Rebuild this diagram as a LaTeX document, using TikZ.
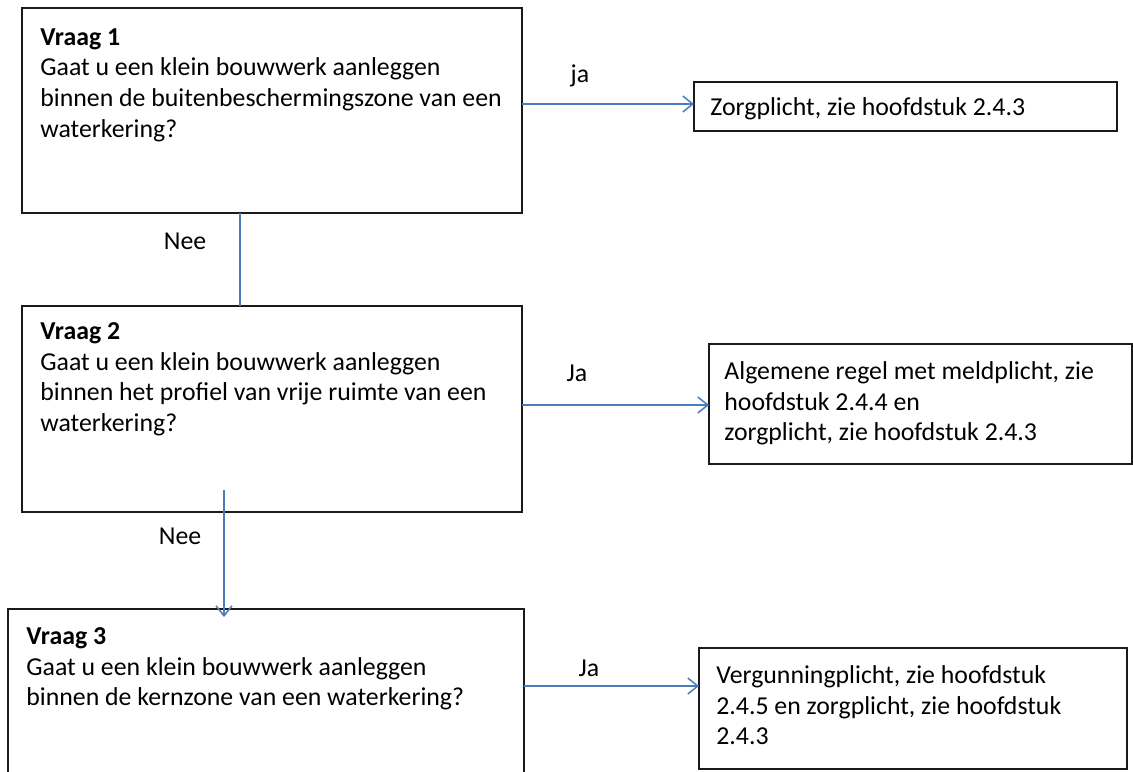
\documentclass[tikz,border=0pt]{standalone}
\usepackage{fontspec}
\setmainfont{Carlito}
\usetikzlibrary{arrows.meta}
\definecolor{conn}{HTML}{4A7EBB}
\definecolor{boxline}{HTML}{1A1A1A}
\tikzset{
  box/.style={draw=boxline,line width=0.8pt,anchor=north west,inner sep=0pt,outer sep=0pt},
  txt/.style={anchor=north west,inner sep=0pt,align=left,font=\fontsize{12.9pt}{15.4pt}\selectfont},
  lbl/.style={inner sep=0pt,font=\fontsize{12.9pt}{15.4pt}\selectfont},
  conn/.style={draw=conn,line width=0.75pt},
  connarrow/.style={conn,-{Straight Barb[length=5pt,width=8pt,line width=0.75pt]}}
}
\begin{document}
\begin{tikzpicture}[x=0.5pt,y=-0.5pt]
\clip (0,0) rectangle (1133,771);
\fill[white] (0,0) rectangle (1133,771);
% question boxes
\node[box,minimum width=250pt,minimum height=102.5pt] (q1) at (22,8) {};
\node[box,minimum width=250pt,minimum height=103pt] (q2) at (22,306) {};
\node[box,minimum width=258pt,minimum height=90pt] (q3) at (8,609) {};
% answer boxes
\node[box,minimum width=211.5pt,minimum height=24.5pt] (r1) at (694,82) {};
\node[box,minimum width=211.5pt,minimum height=60pt] (r2) at (709,344) {};
\node[box,minimum width=214pt,minimum height=60.5pt] (r3) at (699,648) {};
% texts
\node[txt] (q1t) at (40,28) {\textbf{Vraag 1}\\Gaat u een klein bouwwerk aanleggen\\binnen de buitenbeschermingszone van een\\waterkering?};
\node[txt] (q2t) at (40,322) {\textbf{Vraag 2}\\Gaat u een klein bouwwerk aanleggen\\binnen het profiel van vrije ruimte van een\\waterkering?};
\node[txt] (q3t) at (26,627) {\textbf{Vraag 3}\\Gaat u een klein bouwwerk aanleggen\\binnen de kernzone van een waterkering?};
\node[txt] (r1t) at (710,97) {Zorgplicht, zie hoofdstuk 2.4.3};
\node[txt] (r2t) at (724,361) {Algemene regel met meldplicht, zie\\hoofdstuk 2.4.4 en\\zorgplicht, zie hoofdstuk 2.4.3};
\node[txt] (r3t) at (716,665) {Vergunningplicht, zie hoofdstuk\\2.4.5 en zorgplicht, zie hoofdstuk\\2.4.3};
% connectors
\coordinate (a1) at (522,104);
\coordinate (a2) at (522,405);
\coordinate (a3) at (524,686);
\coordinate (v1) at (240,214);
\coordinate (v2) at (224,490);
\draw[connarrow] (q1.east |- a1) -- (r1.west |- a1);
\draw[connarrow] (q2.east |- a2) -- (r2.west |- a2);
\draw[connarrow] (q3.east |- a3) -- (r3.west |- a3);
\draw[conn] (v1 |- q1.south) -- (v1 |- q2.north);
\draw[connarrow] (v2) -- ([yshift=-4pt]v2 |- q3.north);
% labels
\node[lbl] (l1) at (580,76) {ja};
\node[lbl] (l2) at (577,373) {Ja};
\node[lbl] (l3) at (589,668) {Ja};
\node[lbl] (l4) at (185,241) {Nee};
\node[lbl] (l5) at (180,536) {Nee};
\end{tikzpicture}
\end{document}
